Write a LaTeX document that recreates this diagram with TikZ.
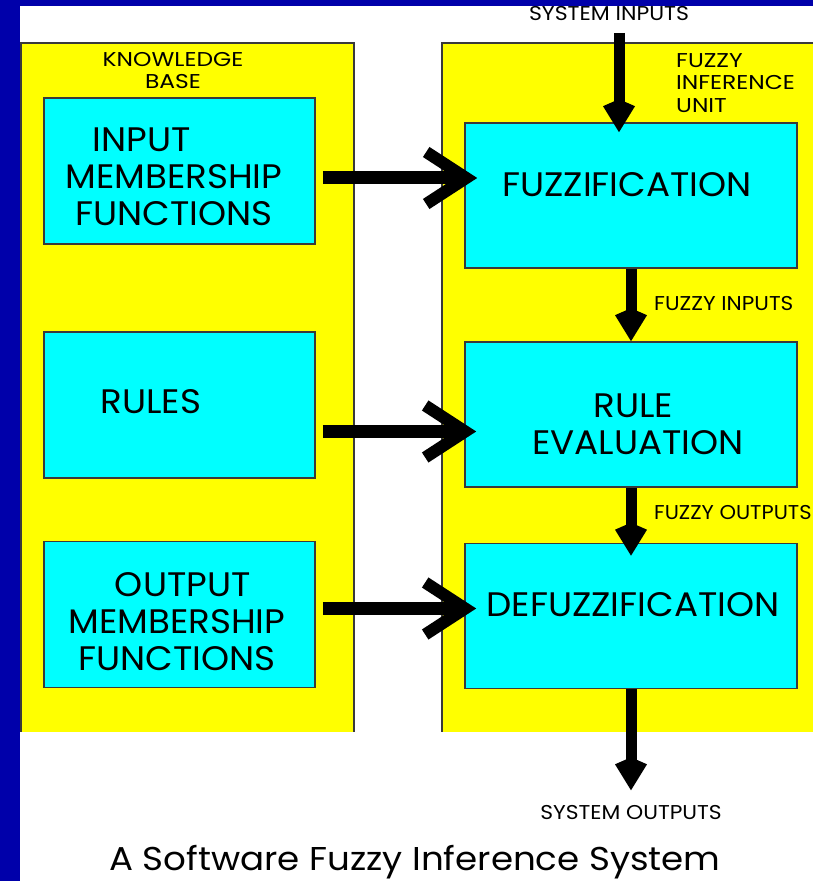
\documentclass[tikz,border=0pt]{standalone}
\usepackage{fontspec}
\setmainfont{Poppins}
\usepackage{graphicx}
\usetikzlibrary{arrows.meta,calc}
\definecolor{bgblue}{HTML}{0000AA}
\definecolor{panelyellow}{HTML}{FFFF00}
\definecolor{boxcyan}{HTML}{00FFFF}
\definecolor{edgegray}{HTML}{3A3A3A}
\newcommand\wx[3]{\scalebox{#1}[1]{\begin{tabular}{@{}#2@{}}#3\end{tabular}}}
\newcommand\labfont{\fontsize{20}{22.5}\selectfont}
\newcommand\boxfont{\fontsize{34}{37}\selectfont}
\newcommand\capfont{\fontsize{33}{38}\selectfont}
\newcommand\gap[1]{\rule{#1}{0pt}}
\tikzset{
  panelline/.style={draw=edgegray, line width=2pt},
  blockbox/.style={draw=edgegray, fill=boxcyan, line width=1.6pt, inner sep=0pt},
  leftbox/.style={blockbox, minimum width=271pt, minimum height=146pt},
  rightbox/.style={blockbox, minimum width=332pt, minimum height=145pt},
  boxtext/.style={inner sep=0pt, font=\boxfont},
  labeltext/.style={inner sep=0pt, font=\labfont},
  harrow/.style={line width=13pt, -{Straight Barb[length=40pt, width=52pt, line width=12pt]}},
  varrow/.style={line width=11pt, -{Kite[length=33pt, width=32pt, inset=7pt]}}
}
\begin{document}
\begin{tikzpicture}[x=1pt, y=1pt]
\useasboundingbox (0,0) rectangle (813,881);
% background
\fill[bgblue] (0,0) rectangle (813,881);
\fill[white] (20,0) rectangle (813,875);
% panels
\fill[panelyellow] (20,149) rectangle (354,838);
\draw[panelline] (21,149) -- (21,838) -- (354,838) -- (354,149);
\fill[panelyellow] (442,149) rectangle (813,838);
\draw[panelline] (442,149) -- (442,838) -- (813,838);
% panel labels
\node[labeltext] (kb) at (173,808) {\wx{1.17}{c}{KNOWLEDGE\\BASE}};
\node[labeltext, anchor=west] (fiu) at (676,795.5) {\wx{1.17}{l}{FUZZY\\INFERENCE\\UNIT}};
% left boxes
\node[leftbox] (b1) at (179.5,710) {};
\node[leftbox] (b2) at (179.5,476) {};
\node[leftbox] (b3) at (179.5,266.5) {};
\node[boxtext] (t1) at (174,700) {\wx{1.05}{c}{INPUT\gap{62pt}\\MEMBERSHIP\\FUNCTIONS}};
\node[boxtext] (t2) at (151,475) {\wx{1.05}{c}{RULES}};
\node[boxtext] (t3) at (177,255) {\wx{1.05}{c}{\gap{11pt}OUTPUT\\MEMBERSHIP\\FUNCTIONS}};
% right boxes
\node[rightbox] (f1) at (631,685.5) {};
\node[rightbox] (f2) at (631,466.5) {};
\node[rightbox] (f3) at (631,265) {};
\node[boxtext] (u1) at (627,692) {\wx{1.05}{c}{FUZZIFICATION}};
\node[boxtext] (u2) at (638,452) {\wx{1.05}{c}{RULE\gap{9pt}\\EVALUATION}};
\node[boxtext] (u3) at (633,272) {\wx{1.05}{c}{DEFUZZIFICATION}};
% outside labels
\node[labeltext] (sin) at (609,865) {\wx{1.1}{c}{SYSTEM INPUTS}};
\node[labeltext, anchor=west] (fin) at (654,575) {\wx{1.08}{l}{FUZZY INPUTS}};
\node[labeltext, anchor=west] (fout) at (654,366) {\wx{1.05}{l}{FUZZY OUTPUTS}};
\node[labeltext] (sout) at (631,66) {\wx{1.09}{c}{SYSTEM OUTPUTS}};
\node[inner sep=0pt, font=\capfont, anchor=base] (cap) at (415,10) {\scalebox{1.08}[1]{A Software Fuzzy Inference System}};
% horizontal arrows
\coordinate (h1s) at ($(b1.east)+(7,-7)$);
\coordinate (h2s) at ($(b2.east)+(7,-26.5)$);
\coordinate (h3s) at ($(b3.east)+(7,6)$);
\draw[harrow] (h1s) -- ($(h1s -| f1.west)+(13,0)$);
\draw[harrow] (h2s) -- ($(h2s -| f2.west)+(12,0)$);
\draw[harrow] (h3s) -- ($(h3s -| f3.west)+(12,0)$);
% vertical arrows
\coordinate (v0s) at (619,848);
\draw[varrow] (v0s) -- ($(v0s |- f1.north)+(0,-10)$);
\draw[varrow] (f1.south) -- (f2.north);
\draw[varrow] (f2.south) -- ($(f3.north)+(0,-13)$);
\coordinate (v3e) at ($(f3.south)+(0,-101)$);
\draw[varrow] (f3.south) -- (v3e);
\end{tikzpicture}
\end{document}
